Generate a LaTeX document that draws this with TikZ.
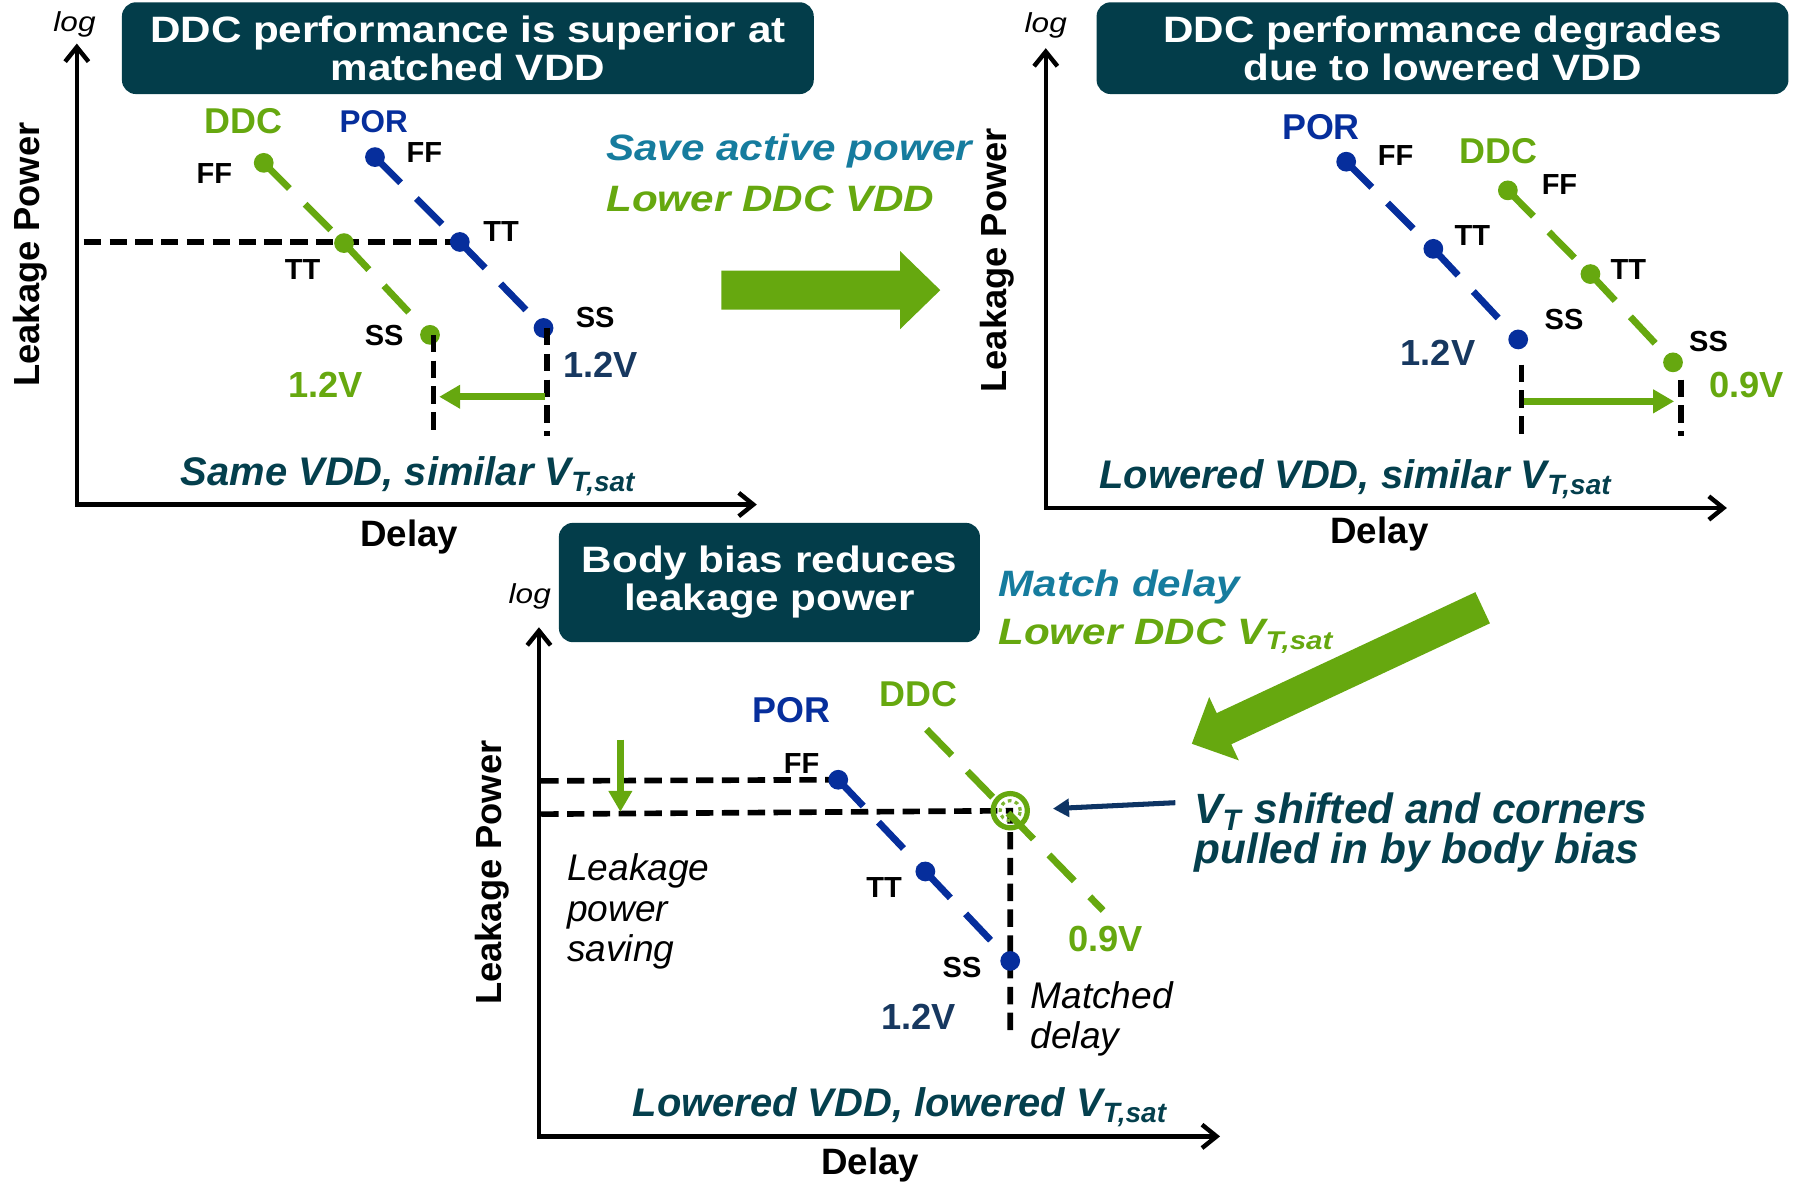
\documentclass[tikz,border=0pt]{standalone}
\usepackage{fontspec}
\setmainfont{Liberation Sans}
\newfontfamily\widesans{Liberation Sans}[FakeStretch=1.15]
\usetikzlibrary{arrows.meta}
\lineskiplimit=-20pt

\definecolor{boxteal}{RGB}{3,61,74}
\definecolor{ddcgreen}{RGB}{102,168,15}
\definecolor{porblue}{RGB}{6,46,156}
\definecolor{voltnavy}{RGB}{23,56,96}
\definecolor{noteteal}{RGB}{22,124,158}
\definecolor{capteal}{RGB}{4,63,77}
\definecolor{pointnavy}{RGB}{14,52,100}

\pgfdeclarelayer{back}
\pgfsetlayers{back,main}

\tikzset{
  titlebox/.style={fill=boxteal, rounded corners=3.5pt, text=white, align=center, inner sep=0pt,
    font=\widesans\bfseries\fontsize{9.1}{9.4}\selectfont},
  axes/.style={line width=1.1pt, {Straight Barb[length=3.6pt,width=5.8pt]}-{Straight Barb[length=3.6pt,width=5.8pt]}},
  logtext/.style={font=\widesans\itshape\fontsize{6.8}{8}\selectfont},
  ylabel/.style={rotate=90, font=\bfseries\fontsize{9}{10}\selectfont},
  xlabel/.style={font=\bfseries\fontsize{9.1}{10}\selectfont},
  ddcdot/.style={circle, fill=ddcgreen, minimum size=4.9pt, inner sep=0pt},
  pordot/.style={circle, fill=porblue, minimum size=4.9pt, inner sep=0pt},
  ddcline/.style={draw=ddcgreen, line width=1.7pt, dash pattern=on 9pt off 5.5pt},
  porline/.style={draw=porblue, line width=1.7pt, dash pattern=on 9pt off 5.5pt},
  guide/.style={draw=black, line width=1.4pt, dash pattern=on 4.3pt off 2.1pt},
  corner/.style={font=\bfseries\fontsize{7.2}{8}\selectfont},
  ddcname/.style={text=ddcgreen, font=\bfseries\fontsize{8.9}{10}\selectfont},
  porname/.style={text=porblue, font=\bfseries\fontsize{8.9}{10}\selectfont},
  ddcvolt/.style={text=ddcgreen, font=\bfseries\fontsize{9}{10}\selectfont},
  porvolt/.style={text=voltnavy, font=\bfseries\fontsize{9}{10}\selectfont},
  caption/.style={anchor=base west, inner sep=0pt, text=capteal, font=\bfseries\itshape\fontsize{9.9}{11}\selectfont},
  sidenote/.style={anchor=base west, inner sep=0pt, font=\widesans\bfseries\itshape\fontsize{9.1}{10}\selectfont},
  remark/.style={anchor=north west, align=left, inner sep=0pt, font=\itshape\fontsize{9.2}{10}\selectfont},
  shiftarrow/.style={draw=ddcgreen, line width=1.7pt, -{Triangle[length=5.2pt,width=5.6pt]}},
  pointer/.style={draw=pointnavy, line width=1.25pt, -{Triangle[length=4pt,width=4.4pt]}},
  vtring/.style={circle, draw=ddcgreen, line width=1.3pt, minimum size=8.5pt, inner sep=0pt},
  bigarrow/.style={fill=ddcgreen}
}

\begin{document}
\begin{tikzpicture}[x=0.01cm,y=-0.01cm]
\useasboundingbox (0,0) rectangle (1568,1032);

% same VDD
\path (408,42) node[titlebox, minimum width=6.03cm, minimum height=0.8cm] (title1)
        {DDC performance is superior at\\matched VDD}
      (65,21) node[logtext] (log1) {log}
      (26,222) node[ylabel] (ylab1) {Leakage Power}
      (357,468) node[xlabel] (xlab1) {Delay}
      (212,106) node[ddcname] (ddc1) {DDC}
      (326,106) node[porname, font=\bfseries\fontsize{7.8}{9}\selectfont] (por1) {POR}
      (230,142) node[ddcdot] (d1ff) {}
      (300,212) node[ddcdot] (d1tt) {}
      (375,292) node[ddcdot] (d1ss) {}
      (327,137) node[pordot] (p1ff) {}
      (401,211) node[pordot] (p1tt) {}
      (474,286) node[pordot] (p1ss) {}
      (187,151) node[corner] (d1ffl) {FF}
      (264,235) node[corner] (d1ttl) {TT}
      (335,293) node[corner] (d1ssl) {SS}
      (370,133) node[corner] (p1ffl) {FF}
      (437,202) node[corner] (p1ttl) {TT}
      (519,277) node[corner] (p1ssl) {SS}
      (284,336) node[ddcvolt] (d1v) {1.2V}
      (524,318) node[porvolt] (p1v) {1.2V}
      (157,423) node[caption] (cap1) {Same VDD, similar V\textsubscript{T,sat}}
      (67,38) coordinate (y1) (67,440) coordinate (o1) (660,440) coordinate (x1)
      (73,211) coordinate (h1)
      (378,380) coordinate (v1a) (477,380) coordinate (v1b)
      (475,346) coordinate (a1from) (383,346) coordinate (a1to);
\begin{pgfonlayer}{back}
\draw[guide] (h1) -- (p1tt.center);
\draw[ddcline] (d1ff.center) -- (d1tt.center);
\draw[ddcline] (d1tt.center) -- (d1ss.center);
\draw[porline] (p1ff.center) -- (p1tt.center);
\draw[porline] (p1tt.center) -- (p1ss.center);
\end{pgfonlayer}
\draw[axes] (y1) -- (o1) -- (x1);
\draw[guide] (v1a |- d1ss.center) -- (v1a);
\draw[guide] (v1b |- p1ss.center) -- (v1b);
\draw[shiftarrow] (a1from) -- (a1to);

% lower the VDD
\path (528,140) node[sidenote, text=noteteal] (save) {Save active power}
      (528,184) node[sidenote, text=ddcgreen] (lowvdd) {Lower DDC VDD};
\fill[bigarrow] (629,236) -- (785,236) -- (785,219) -- (820,253) -- (785,287) -- (785,270) -- (629,270) -- cycle;

% lowered VDD
\path (1258,42) node[titlebox, minimum width=6.03cm, minimum height=0.8cm] (title2)
        {DDC performance degrades\\due to lowered VDD}
      (912,22) node[logtext] (log2) {log}
      (870,227) node[ylabel] (ylab2) {Leakage Power}
      (1203,466) node[xlabel] (xlab2) {Delay}
      (1152,111) node[porname] (por2) {POR}
      (1307,132) node[ddcname] (ddc2) {DDC}
      (1174,141) node[pordot] (p2ff) {}
      (1250,217) node[pordot] (p2tt) {}
      (1324,296) node[pordot] (p2ss) {}
      (1315,166) node[ddcdot] (d2ff) {}
      (1387,239) node[ddcdot] (d2tt) {}
      (1459,316) node[ddcdot] (d2ss) {}
      (1217,136) node[corner] (p2ffl) {FF}
      (1284,205) node[corner] (p2ttl) {TT}
      (1364,279) node[corner] (p2ssl) {SS}
      (1360,161) node[corner] (d2ffl) {FF}
      (1420,235) node[corner] (d2ttl) {TT}
      (1490,298) node[corner] (d2ssl) {SS}
      (1254,308) node[porvolt] (p2v) {1.2V}
      (1523,336) node[ddcvolt] (d2v) {0.9V}
      (958,426) node[caption] (cap2) {Lowered VDD, similar V\textsubscript{T,sat}}
      (912,42) coordinate (y2) (912,443) coordinate (o2) (1506,443) coordinate (x2)
      (1327,318) coordinate (v2a) (1466,331) coordinate (v2b) (0,380) coordinate (v2base)
      (1329,350) coordinate (a2from) (1460,350) coordinate (a2to);
\begin{pgfonlayer}{back}
\draw[porline] (p2ff.center) -- (p2tt.center);
\draw[porline] (p2tt.center) -- (p2ss.center);
\draw[ddcline] (d2ff.center) -- (d2tt.center);
\draw[ddcline] (d2tt.center) -- (d2ss.center);
\end{pgfonlayer}
\draw[axes] (y2) -- (o2) -- (x2);
\draw[guide] (v2a) -- (v2a |- v2base);
\draw[guide] (v2b) -- (v2b |- v2base);
\draw[shiftarrow] (a2from) -- (a2to);

% body bias
\path (671,508) node[titlebox, minimum width=3.67cm, minimum height=1.04cm] (title3)
        {Body bias reduces\\leakage power}
      (462,520) node[logtext] (log3) {log}
      (429,761) node[ylabel] (ylab3) {Leakage Power}
      (759,1016) node[xlabel] (xlab3) {Delay}
      (690,619) node[porname] (por3) {POR}
      (801,605) node[ddcname] (ddc3) {DDC}
      (731,680) node[pordot] (p3ff) {}
      (807,760) node[pordot] (p3tt) {}
      (881,838) node[pordot] (p3ss) {}
      (699,666) node[corner] (p3ffl) {FF}
      (771,774) node[corner] (p3ttl) {TT}
      (839,844) node[corner] (p3ssl) {SS}
      (801,887) node[porvolt] (p3v) {1.2V}
      (964,819) node[ddcvolt] (d3v) {0.9V}
      (551,974) node[caption] (cap3) {Lowered VDD, lowered V\textsubscript{T,sat}}
      (494,744) node[remark] (saving) {Leakage\\power\\saving}
      (898,855) node[remark] (matched) {Matched\\delay}
      (1041,691) node[anchor=north west, align=left, inner sep=0pt, text=capteal,
        font=\bfseries\itshape\fontsize{10.5}{9.8}\selectfont] (vtnote)
        {V\textsubscript{T} shifted and corners\\pulled in by body bias}
      (870,520) node[sidenote, text=noteteal] (match) {Match delay}
      (870,562) node[sidenote, text=ddcgreen] (lowvt) {Lower DDC V\textsubscript{T,sat}}
      (470,547) coordinate (y3) (470,991) coordinate (o3) (1064,991) coordinate (x3)
      (472,681) coordinate (h3a) (472,710) coordinate (h3b)
      (881,707) coordinate (vtc) (881,905) coordinate (v3base)
      (808,636) coordinate (d3a) (962,794) coordinate (d3b)
      (541,645) coordinate (s3from) (541,708) coordinate (s3to)
      (1025,700) coordinate (vtfrom);
\begin{pgfonlayer}{back}
\draw[guide] (h3a) -- (p3ff.center);
\draw[guide] (h3b) -- (vtc) -- (v3base);
\draw[porline] (p3ff.center) -- (p3tt.center);
\draw[porline] (p3tt.center) -- (p3ss.center);
\end{pgfonlayer}
\draw[axes] (y3) -- (o3) -- (x3);
\node[vtring] (vt) at (vtc) {};
\draw[ddcgreen!85, line width=0.8pt, dash pattern=on 0.9pt off 0.9pt] (vt.center) circle [radius=2.5pt];
\draw[ddcline] (d3a) -- (d3b);
\draw[shiftarrow] (s3from) -- (s3to);
\draw[pointer, shorten >=5.7pt] (vtfrom) -- (vt);
\fill[bigarrow, shift={(1293,530)}, rotate=205.06] (0,-15) -- (249,-15) -- (249,-30.5) -- (280,0) -- (249,30.5) -- (249,15) -- (0,15) -- cycle;
\end{tikzpicture}
\end{document}
